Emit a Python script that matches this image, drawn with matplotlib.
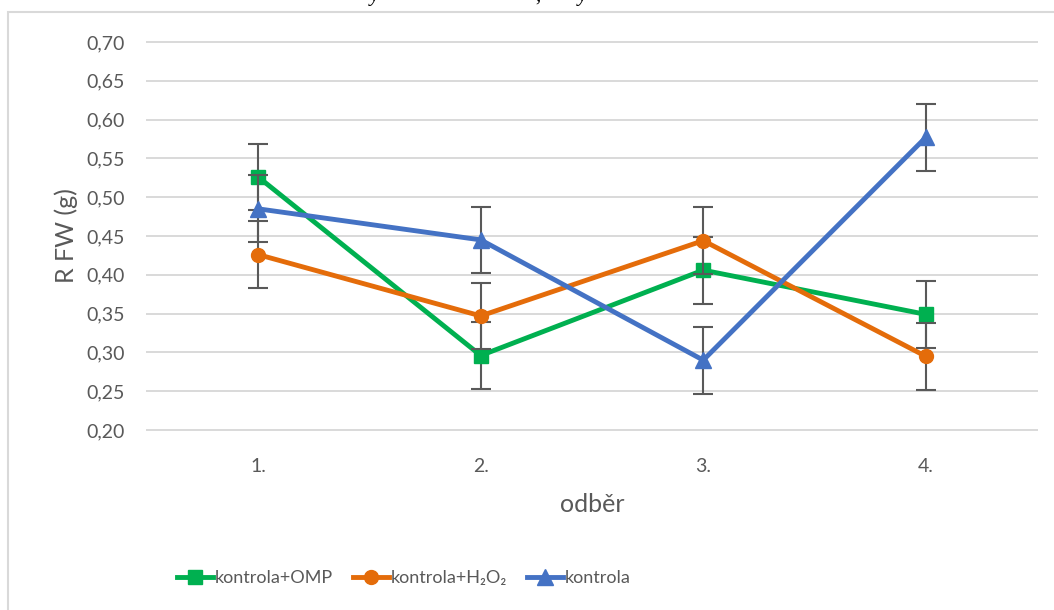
import matplotlib
matplotlib.use("Agg")
import matplotlib.pyplot as plt
from matplotlib.patches import Rectangle
from matplotlib.lines import Line2D

# ---- data ----
categories = ["1.", "2.", "3.", "4."]
series_names = ["kontrola+OMP", "kontrola+H\u2082O\u2082", "kontrola"]
omp = [0.526, 0.296, 0.406, 0.349]
h2o2 = [0.426, 0.347, 0.444, 0.295]
kontrola = [0.485, 0.445, 0.290, 0.577]
omp_err = [0.043, 0.043, 0.043, 0.043]
h2o2_err = [0.043, 0.043, 0.043, 0.043]
kontrola_err = [0.043, 0.043, 0.043, 0.043]
yticks = [0.20, 0.25, 0.30, 0.35, 0.40, 0.45, 0.50, 0.55, 0.60, 0.65, 0.70]
ytick_labels = ["0,20", "0,25", "0,30", "0,35", "0,40", "0,45", "0,50", "0,55", "0,60", "0,65", "0,70"]

colors = ["#00B050", "#E46C0A", "#4472C4"]
markers = ["s", "o", "^"]
msizes = [9.5, 10, 11]

FONT = "Lato"
plt.rcParams['font.family'] = [FONT, 'DejaVu Sans']
TXT = "#595959"

W, H = 1054, 610
fig = plt.figure(figsize=(W / 100, H / 100), dpi=100)

# chart frame (cropped)
fig.patches.append(Rectangle((8 / W, -0.1), 1.2, 1 - 12 / H + 0.1, transform=fig.transFigure,
                             fill=False, edgecolor="#D9D9D9", linewidth=1.5))

# cut-off caption fragments at the very top (as in the reference)
for xpx, s in [(370, "y"), (535, ","), (578, "y")]:
    fig.text(xpx / W, 1 - 1 / H, s, family="Liberation Serif", style="italic",
             fontsize=15, va="baseline", ha="left", color="black")

left, right, top, bottom = 147, 1037, 42, 430
ax = fig.add_axes([left / W, 1 - bottom / H, (right - left) / W, (bottom - top) / H])
x = list(range(1, len(categories) + 1))
ax.set_xlim(0.5, len(categories) + 0.5)
ax.set_ylim(0.20, 0.70)
for s in ax.spines.values():
    s.set_visible(False)

for yv in yticks:
    ax.axhline(yv, color="#D9D9D9", lw=1.4, zorder=0, clip_on=False)

data = [(omp, omp_err), (h2o2, h2o2_err), (kontrola, kontrola_err)]
for i, (vals, err) in enumerate(data):
    ax.errorbar(x, vals, yerr=err, fmt="none", ecolor="#595959", elinewidth=1.5,
                capsize=7.5, capthick=1.5, zorder=2 + i * 2)
    ax.plot(x, vals, color=colors[i], lw=3.5, marker=markers[i], ms=msizes[i],
            zorder=3 + i * 2, solid_joinstyle="round", label=series_names[i])

ax.set_yticks(yticks)
ax.set_yticklabels(ytick_labels)
ax.set_xticks(x)
ax.set_xticklabels(categories)
ax.tick_params(axis="both", length=0, colors=TXT, labelsize=14)
ax.tick_params(axis="y", pad=16)
ax.tick_params(axis="x", pad=20)
ax.set_ylabel("R FW (g)", color=TXT, fontsize=18, labelpad=6)
ax.set_xlabel("odběr", color=TXT, fontsize=18, labelpad=13)

handles = [Line2D([0], [0], color=colors[i], lw=3.5, marker=markers[i], ms=msizes[i])
           for i in range(3)]
fig.legend(handles, series_names, loc="center left", bbox_to_anchor=(177 / W, 1 - 578 / H),
           ncol=3, frameon=False, fontsize=13, handlelength=2.0, handletextpad=0.1,
           columnspacing=1.1, labelcolor=TXT, borderaxespad=0, borderpad=0)

fig.savefig("out.png", dpi=100)
